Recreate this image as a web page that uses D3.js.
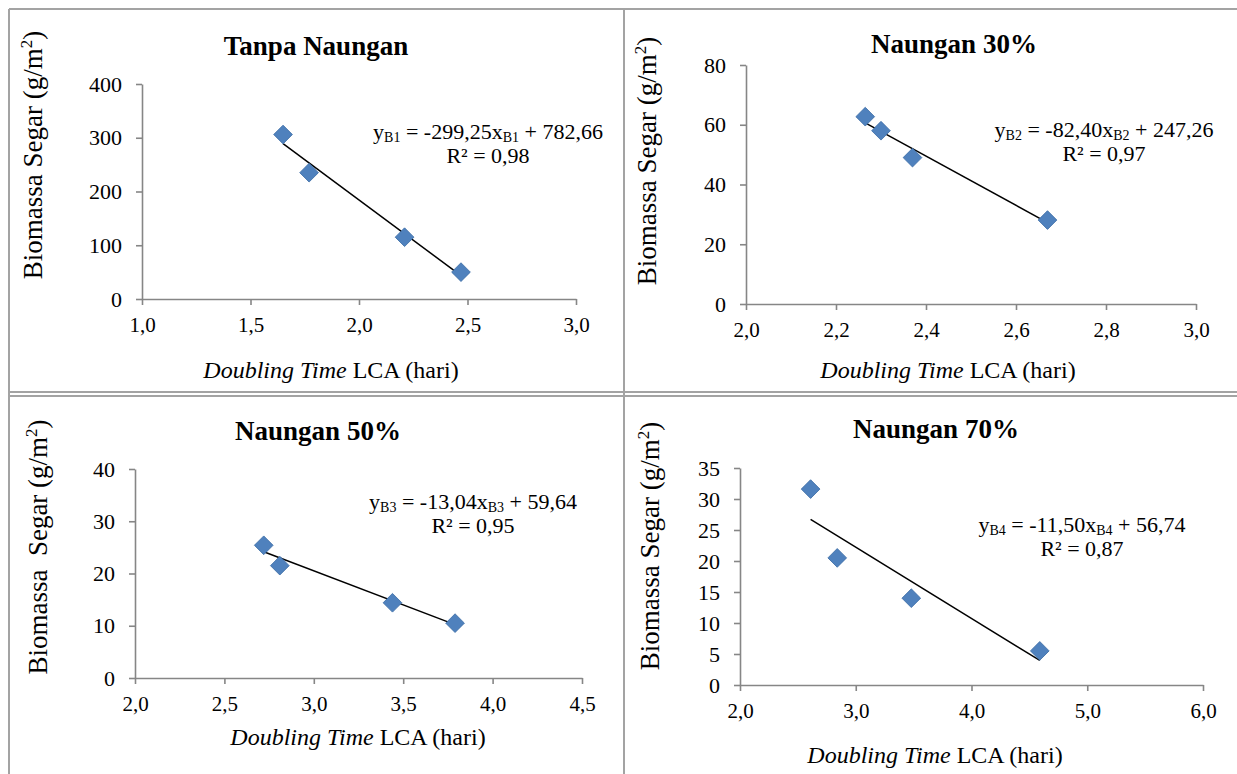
<!DOCTYPE html>
<html>
<head>
<meta charset="utf-8">
<script src="https://cdn.jsdelivr.net/npm/d3@7"></script>
<style>
  html, body { margin: 0; padding: 0; background: #fff; }
  svg { display: block; }
</style>
</head>
<body>
<div id="chart"></div>
<script>
// Data (doubling time LCA in days vs fresh biomass g/m2)
const panelTitles = ["Tanpa Naungan", "Naungan 30%", "Naungan 50%", "Naungan 70%"];
const seriesKeys = ["B1", "B2", "B3", "B4"];

const doublingB1 = [1.65, 1.77, 2.21, 2.47];
const biomassB1 = [306, 235, 115, 50];
const doublingB2 = [2.265, 2.30, 2.37, 2.67];
const biomassB2 = [62.7, 58, 49, 28.1];
const doublingB3 = [2.72, 2.81, 3.44, 3.79];
const biomassB3 = [25.4, 21.5, 14.4, 10.5];
const doublingB4 = [2.61, 2.84, 3.48, 4.59];
const biomassB4 = [31.6, 20.5, 14, 5.5];

// Trendline coefficients as printed on the chart
const slopes = [-299.25, -82.40, -13.04, -11.50];
const intercepts = [782.66, 247.26, 59.64, 56.74];
const rSquared = [0.98, 0.97, 0.95, 0.87];

// Tick values
const xTicksB1 = [1.0, 1.5, 2.0, 2.5, 3.0];
const yTicksB1 = [0, 100, 200, 300, 400];
const xTicksB2 = [2.0, 2.2, 2.4, 2.6, 2.8, 3.0];
const yTicksB2 = [0, 20, 40, 60, 80];
const xTicksB3 = [2.0, 2.5, 3.0, 3.5, 4.0, 4.5];
const yTicksB3 = [0, 10, 20, 30, 40];
const xTicksB4 = [2.0, 3.0, 4.0, 5.0, 6.0];
const yTicksB4 = [0, 5, 10, 15, 20, 25, 30, 35];

const xValues = [doublingB1, doublingB2, doublingB3, doublingB4];
const yValues = [biomassB1, biomassB2, biomassB3, biomassB4];
const xTicks = [xTicksB1, xTicksB2, xTicksB3, xTicksB4];
const yTicks = [yTicksB1, yTicksB2, yTicksB3, yTicksB4];
const yLabels = ["Biomassa Segar (g/m", "Biomassa Segar (g/m", "Biomassa  Segar (g/m", "Biomassa Segar (g/m"];

// Layout of each panel (pixel frame of the plot area and text anchors)
const layout = [
  { x0: 142, x1: 576, yTop: 84, yBot: 299, titleX: 316, titleY: 55, eqX: 488, eqY: 139, ylX: 42, ylY: 155, xlX: 331, xlY: 378 },
  { x0: 746, x1: 1196, yTop: 65, yBot: 304, titleX: 954, titleY: 53, eqX: 1104, eqY: 137, ylX: 656, ylY: 161, xlX: 948, xlY: 378 },
  { x0: 135, x1: 582, yTop: 469, yBot: 678, titleX: 318, titleY: 440, eqX: 473, eqY: 509, ylX: 47, ylY: 547, xlX: 358, xlY: 745 },
  { x0: 740, x1: 1203, yTop: 468, yBot: 685, titleX: 936, titleY: 438, eqX: 1082, eqY: 532, ylX: 659, ylY: 546, xlX: 935, xlY: 763 }
];

const serif = "\"Liberation Serif\", \"Times New Roman\", serif";
const axisColor = "#868686";
const borderColor = "#a3a3a3";

const locale = d3.formatLocale({ decimal: ",", thousands: ".", grouping: [3], currency: ["", ""], minus: "-" });
const fmt1 = locale.format(".1f");
const fmt2 = locale.format(".2f");
const fmt0 = locale.format("d");

const svg = d3.select("#chart")
  .append("svg")
  .attr("width", 1237)
  .attr("height", 774)
  .style("background", "#fff");

// Table borders
const borders = svg.append("g").attr("id", "borders")
  .attr("stroke", borderColor)
  .attr("stroke-width", 2)
  .attr("fill", "none");
borders.append("line").attr("x1", 9).attr("x2", 1237).attr("y1", 9).attr("y2", 9);
borders.append("line").attr("x1", 9).attr("x2", 9).attr("y1", 9).attr("y2", 774);
borders.append("line").attr("x1", 624).attr("x2", 624).attr("y1", 9).attr("y2", 774);
borders.append("line").attr("x1", 9).attr("x2", 1237).attr("y1", 392).attr("y2", 392);
borders.append("line").attr("x1", 9).attr("x2", 1237).attr("y1", 396).attr("y2", 396);

panelTitles.forEach(function (title, i) {
  const L = layout[i];
  const xs = xTicks[i];
  const ys = yTicks[i];

  const xScale = d3.scaleLinear().domain([xs[0], xs[xs.length - 1]]).range([L.x0, L.x1]);
  const yScale = d3.scaleLinear().domain([ys[0], ys[ys.length - 1]]).range([L.yBot, L.yTop]);

  const panel = svg.append("g").attr("id", "panel-" + seriesKeys[i]);

  // Axes
  const yAxis = panel.append("g")
    .attr("transform", `translate(${L.x0},0)`)
    .call(d3.axisLeft(yScale).tickValues(ys).tickFormat(fmt0).tickSize(6).tickSizeOuter(0).tickPadding(14));
  yAxis.attr("font-size", 22);
  yAxis.selectAll("path, line").attr("stroke", axisColor).attr("stroke-width", 1.6);
  yAxis.selectAll("text").attr("fill", "#000").style("font-family", serif);

  const xAxis = panel.append("g")
    .attr("transform", `translate(0,${L.yBot})`)
    .call(d3.axisBottom(xScale).tickValues(xs).tickFormat(fmt1).tickSize(6).tickSizeOuter(0).tickPadding(14));
  xAxis.attr("font-size", 21);
  xAxis.selectAll("path, line").attr("stroke", axisColor).attr("stroke-width", 1.6);
  xAxis.selectAll("text").attr("fill", "#000").attr("dy", "0.6em").style("font-family", serif);

  // Trendline over the data range
  const xExt = d3.extent(xValues[i]);
  const lineData = xExt.map((v) => [v, slopes[i] * v + intercepts[i]]);
  panel.append("path")
    .datum(lineData)
    .attr("fill", "none")
    .attr("stroke", "#000")
    .attr("stroke-width", 1.5)
    .attr("d", d3.line().x((d) => xScale(d[0])).y((d) => yScale(d[1])));

  // Diamond markers
  const pts = xValues[i].map((v, k) => ({ x: v, y: yValues[i][k] }));
  panel.append("g")
    .selectAll("path")
    .data(pts)
    .join("path")
    .attr("d", d3.symbol().type(d3.symbolSquare).size(175))
    .attr("transform", (d) => `translate(${xScale(d.x)},${yScale(d.y)}) rotate(45)`)
    .attr("fill", "#4f81bd")
    .attr("stroke", "#3d6ea6")
    .attr("stroke-width", 0.8);

  // Title
  panel.append("text")
    .attr("x", L.titleX)
    .attr("y", L.titleY)
    .attr("text-anchor", "middle")
    .attr("font-weight", "bold")
    .attr("font-size", 27)
    .style("font-family", serif)
    .text(title);

  // Regression equation
  const eq = panel.append("text")
    .attr("x", L.eqX)
    .attr("y", L.eqY)
    .attr("text-anchor", "middle")
    .attr("font-size", 22)
    .style("font-family", serif);
  eq.append("tspan").text("y");
  eq.append("tspan").attr("font-size", 14).attr("dy", 3).text(seriesKeys[i]);
  eq.append("tspan").attr("dy", -3).text(" = " + fmt2(slopes[i]) + "x");
  eq.append("tspan").attr("font-size", 14).attr("dy", 3).text(seriesKeys[i]);
  eq.append("tspan").attr("dy", -3).text(" + " + fmt2(intercepts[i]));

  panel.append("text")
    .attr("x", L.eqX)
    .attr("y", L.eqY + 24)
    .attr("text-anchor", "middle")
    .attr("font-size", 22)
    .style("font-family", serif)
    .text("R\u00b2 = " + fmt2(rSquared[i]));

  // Axis labels
  const yl = panel.append("text")
    .attr("transform", `translate(${L.ylX},${L.ylY}) rotate(-90)`)
    .attr("text-anchor", "middle")
    .attr("font-size", 27)
    .style("font-family", serif)
    .style("white-space", "pre");
  yl.append("tspan").text(yLabels[i]);
  yl.append("tspan").attr("font-size", 17).attr("dy", -10).text("2");
  yl.append("tspan").attr("dy", 10).text(")");

  const xl = panel.append("text")
    .attr("x", L.xlX)
    .attr("y", L.xlY)
    .attr("text-anchor", "middle")
    .attr("font-size", 24)
    .style("font-family", serif);
  xl.append("tspan").attr("font-style", "italic").text("Doubling Time");
  xl.append("tspan").text(" LCA (hari)");
});
</script>
</body>
</html>
